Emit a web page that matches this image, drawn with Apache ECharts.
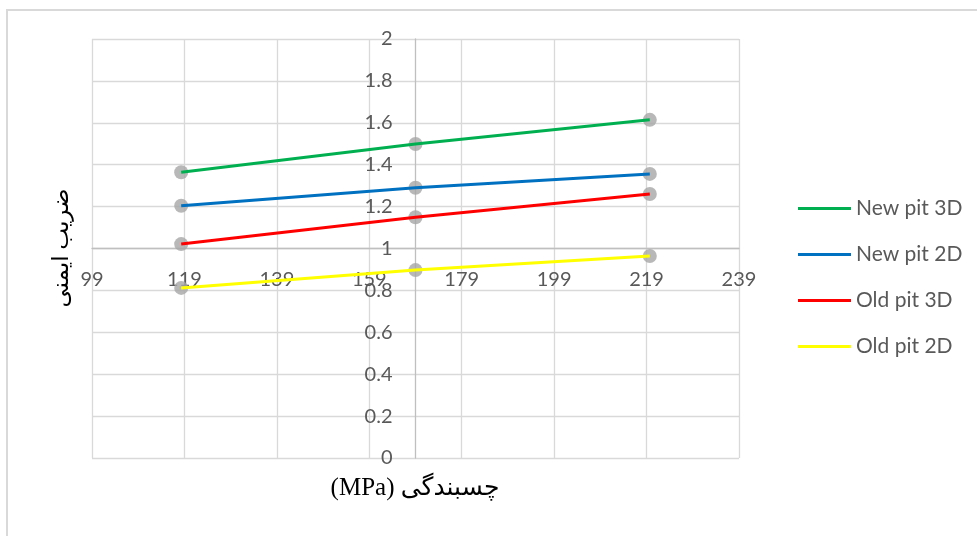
<!DOCTYPE html>
<html>
<head>
<meta charset="utf-8">
<script src="https://cdn.jsdelivr.net/npm/echarts@6/dist/echarts.min.js"></script>
<style>
  html, body { margin: 0; padding: 0; background: #ffffff; }
  #chart { width: 977px; height: 536px; }
</style>
</head>
<body>
<div id="chart"></div>
<script>
// Cohesion (MPa) sampled at -30%, base and +30%
const cohesion = [118.3, 169, 219.7];

// Safety factor for each pit model
const newPit3D = [1.364, 1.499, 1.614];
const newPit2D = [1.204, 1.290, 1.356];
const oldPit3D = [1.021, 1.149, 1.260];
const oldPit2D = [0.812, 0.897, 0.964];

const seriesNames = ['New pit 3D', 'New pit 2D', 'Old pit 3D', 'Old pit 2D'];
const seriesValues = [newPit3D, newPit2D, oldPit3D, oldPit2D];
const seriesColors = ['#00b050', '#0070c0', '#ff0000', '#ffff00'];

// Axis ranges and tick steps
const xMin = 99, xMax = 239, xStep = 20;
const yMin = 0, yMax = 2, yStep = 0.2;
// Where the axes cross each other
const yAxisCrossAtX = 169;
const xAxisCrossAtY = 1;

const xTitle = '(MPa) چسبندگی';
const yTitle = 'ضریب ایمنی';

const GRID = { left: 92, top: 39, width: 647, height: 419 };
const tickFont = 'Lato, "Open Sans", sans-serif';
const titleFont = '"Liberation Serif", "DejaVu Sans", serif';

const chart = echarts.init(document.getElementById('chart'), null, { renderer: 'canvas' });

function pairs(values) {
  return cohesion.map((x, i) => [x, values[i]]);
}

function buildSeries() {
  const out = [];
  // grey markers underneath
  seriesValues.forEach((vals, i) => {
    out.push({
      name: seriesNames[i] + ' pts',
      type: 'scatter',
      data: pairs(vals),
      symbol: 'circle',
      symbolSize: 14,
      itemStyle: { color: '#a6a6a6' },
      z: 2,
      silent: true
    });
  });
  // coloured lines on top
  seriesValues.forEach((vals, i) => {
    out.push({
      name: seriesNames[i],
      type: 'line',
      data: pairs(vals),
      symbol: 'none',
      showSymbol: false,
      lineStyle: { color: seriesColors[i], width: 3 },
      itemStyle: { color: seriesColors[i] },
      z: 3,
      silent: true
    });
  });
  return out;
}

function buildOption(xOffset, yOffset) {
  return {
    animation: false,
    backgroundColor: '#ffffff',
    grid: Object.assign({ containLabel: false, outerBoundsMode: 'none' }, GRID),
    legend: {
      data: seriesNames,
      orient: 'vertical',
      left: 798,
      top: 198,
      padding: 0,
      itemWidth: 53,
      itemHeight: 3,
      itemGap: 25,
      icon: 'rect',
      textStyle: { fontFamily: tickFont, fontSize: 21, color: '#595959', lineHeight: 20 },
      selectedMode: false
    },
    xAxis: {
      type: 'value',
      min: xMin,
      max: xMax,
      interval: xStep,
      position: 'bottom',
      offset: xOffset,
      axisLine: { show: true, onZero: false, lineStyle: { color: '#bfbfbf', width: 1.3 } },
      axisTick: { show: false },
      axisLabel: { fontFamily: tickFont, fontSize: 20, color: '#595959', margin: 21, showMinLabel: true, showMaxLabel: true },
      splitLine: { show: true, lineStyle: { color: '#d9d9d9', width: 1.3 } }
    },
    yAxis: {
      type: 'value',
      min: yMin,
      max: yMax,
      interval: yStep,
      position: 'left',
      offset: yOffset,
      axisLine: { show: true, onZero: false, lineStyle: { color: '#bfbfbf', width: 1.3 } },
      axisTick: { show: false },
      axisLabel: { fontFamily: tickFont, fontSize: 20, color: '#595959', margin: 23,
        formatter: v => String(Math.round(v * 10) / 10) },
      splitLine: { show: true, lineStyle: { color: '#d9d9d9', width: 1.3 } }
    },
    graphic: [
      {
        type: 'rect',
        shape: { x: 7, y: 10, width: 1000, height: 600 },
        style: { fill: 'none', stroke: '#d9d9d9', lineWidth: 2 },
        silent: true,
        z: -1
      },
      {
        type: 'text',
        x: 415,
        y: 488,
        style: { text: xTitle, font: '25px ' + titleFont, fill: '#000000', align: 'center', verticalAlign: 'middle' },
        silent: true
      },
      {
        type: 'text',
        x: 62,
        y: 248,
        rotation: Math.PI / 2,
        style: { text: yTitle, font: '23px ' + titleFont, fill: '#000000', align: 'center', verticalAlign: 'middle' },
        silent: true
      }
    ],
    series: buildSeries()
  };
}

// First pass: lay out the grid, then move each axis to where it crosses the other
chart.setOption(buildOption(0, 0));
const crossPx = chart.convertToPixel({ xAxisIndex: 0 }, yAxisCrossAtX);
const crossPy = chart.convertToPixel({ yAxisIndex: 0 }, xAxisCrossAtY);
const yOffset = -(crossPx - GRID.left);
const xOffset = -((GRID.top + GRID.height) - crossPy);
chart.setOption(buildOption(xOffset, yOffset), true);
</script>
</body>
</html>
